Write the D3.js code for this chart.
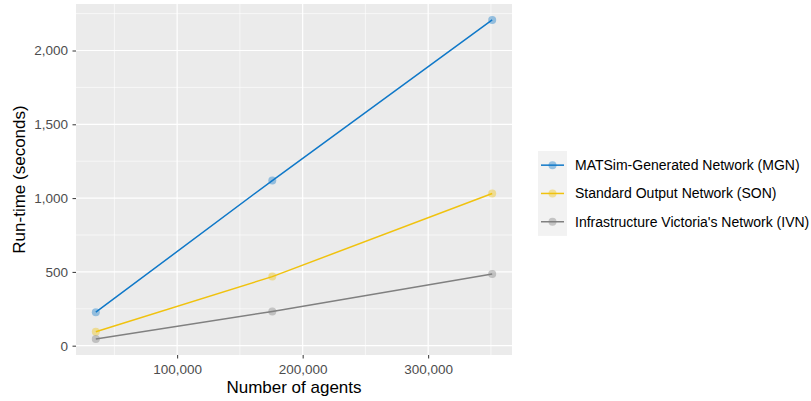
<!DOCTYPE html>
<html>
<head>
<meta charset="utf-8">
<script src="https://cdn.jsdelivr.net/npm/d3@7"></script>
<style>
  body { margin: 0; background: #fff; }
  svg { font-family: "Liberation Sans", Arial, sans-serif; }
</style>
</head>
<body>
<svg id="chart" width="811" height="401"></svg>
<script>
const agents = [35200, 175800, 351000];
const seriesNames = [
  "MATSim-Generated Network (MGN)",
  "Standard Output Network (SON)",
  "Infrastructure Victoria's Network (IVN)"
];
const mgnValues = [227, 1119, 2207];
const sonValues = [95, 468, 1031];
const ivnValues = [45, 232, 486];
const colors = ["#0F78C8", "#F0C20E", "#808080"];
const xTicks = [100000, 200000, 300000];
const xMinor = [50000, 150000, 250000, 350000];
const yTicks = [0, 500, 1000, 1500, 2000];
const yMinor = [250, 750, 1250, 1750, 2250];

const series = [mgnValues, sonValues, ivnValues].map((vals, i) => ({
  name: seriesNames[i],
  color: colors[i],
  points: agents.map((a, j) => ({ x: a, y: vals[j] }))
}));

const svg = d3.select("#chart");
const panel = { l: 76, r: 512, t: 4, b: 355 };
const fmt = d3.format(",");

// ggplot-style 5% expansion
const xExt = d3.extent(agents);
const xPad = (xExt[1] - xExt[0]) * 0.05;
const allY = [...mgnValues, ...sonValues, ...ivnValues];
const yExt = d3.extent(allY);
const yPad = (yExt[1] - yExt[0]) * 0.05;

const x = d3.scaleLinear().domain([xExt[0] - xPad, xExt[1] + xPad]).range([panel.l, panel.r]);
const y = d3.scaleLinear().domain([yExt[0] - yPad, yExt[1] + yPad]).range([panel.b, panel.t]);

svg.append("rect")
  .attr("x", panel.l).attr("y", panel.t)
  .attr("width", panel.r - panel.l).attr("height", panel.b - panel.t)
  .attr("fill", "#EBEBEB");

const grid = svg.append("g");
grid.selectAll(".xminor").data(xMinor).join("line")
  .attr("x1", d => x(d)).attr("x2", d => x(d))
  .attr("y1", panel.t).attr("y2", panel.b)
  .attr("stroke", "#fff").attr("stroke-width", 0.6);
grid.selectAll(".yminor").data(yMinor).join("line")
  .attr("y1", d => y(d)).attr("y2", d => y(d))
  .attr("x1", panel.l).attr("x2", panel.r)
  .attr("stroke", "#fff").attr("stroke-width", 0.6);
grid.selectAll(".xmajor").data(xTicks).join("line")
  .attr("x1", d => x(d)).attr("x2", d => x(d))
  .attr("y1", panel.t).attr("y2", panel.b)
  .attr("stroke", "#fff").attr("stroke-width", 1.2);
grid.selectAll(".ymajor").data(yTicks).join("line")
  .attr("y1", d => y(d)).attr("y2", d => y(d))
  .attr("x1", panel.l).attr("x2", panel.r)
  .attr("stroke", "#fff").attr("stroke-width", 1.2);

// axes
const xAxis = d3.axisBottom(x).tickValues(xTicks).tickFormat(fmt).tickSize(3.5).tickPadding(6);
const yAxis = d3.axisLeft(y).tickValues(yTicks).tickFormat(fmt).tickSize(3.5).tickPadding(4.5);

svg.append("g").attr("transform", `translate(0,${panel.b})`).call(xAxis)
  .attr("font-size", 13.5).attr("font-family", null)
  .call(g => g.select(".domain").remove())
  .call(g => g.selectAll("line").attr("stroke", "#333"))
  .call(g => g.selectAll("text").attr("fill", "#4D4D4D"));
svg.append("g").attr("transform", `translate(${panel.l},0)`).call(yAxis)
  .attr("font-size", 13.5).attr("font-family", null)
  .call(g => g.select(".domain").remove())
  .call(g => g.selectAll("line").attr("stroke", "#333"))
  .call(g => g.selectAll("text").attr("fill", "#4D4D4D"));

svg.append("text")
  .attr("x", (panel.l + panel.r) / 2).attr("y", 393)
  .attr("text-anchor", "middle").attr("font-size", 17).attr("fill", "#000")
  .text("Number of agents");
svg.append("text")
  .attr("transform", `translate(25,${(panel.t + panel.b) / 2}) rotate(-90)`)
  .attr("text-anchor", "middle").attr("font-size", 17).attr("fill", "#000")
  .text("Run-time (seconds)");

// lines and points
const line = d3.line().x(d => x(d.x)).y(d => y(d.y));
series.forEach(s => {
  svg.append("path").datum(s.points)
    .attr("d", line).attr("fill", "none")
    .attr("stroke", s.color).attr("stroke-width", 1.5);
  svg.append("g").selectAll("circle").data(s.points).join("circle")
    .attr("cx", d => x(d.x)).attr("cy", d => y(d.y)).attr("r", 4)
    .attr("fill", s.color).attr("fill-opacity", 0.4);
});

// legend
const legend = svg.append("g").attr("transform", "translate(538,151)");
const keyH = 28.3;
legend.append("rect").attr("width", 29).attr("height", keyH * 3)
  .attr("fill", "#F2F2F2");
series.forEach((s, i) => {
  const cy = keyH * i + keyH / 2;
  legend.append("line").attr("x1", 3).attr("x2", 26)
    .attr("y1", cy).attr("y2", cy)
    .attr("stroke", s.color).attr("stroke-width", 1.5);
  legend.append("circle").attr("cx", 14.5).attr("cy", cy).attr("r", 4)
    .attr("fill", s.color).attr("fill-opacity", 0.4);
  legend.append("text").attr("x", 37).attr("y", cy).attr("dy", "0.35em")
    .attr("font-size", 14).attr("fill", "#000").text(s.name);
});
</script>
</body>
</html>
